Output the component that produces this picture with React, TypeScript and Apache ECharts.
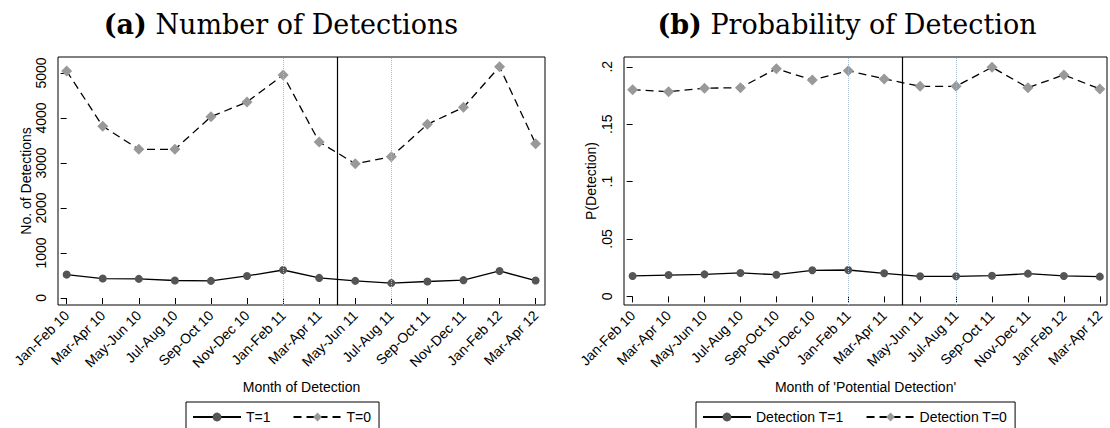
import React, { useEffect, useRef } from "react";
import * as echarts from "echarts";

const categories = [
  "Jan-Feb 10", "Mar-Apr 10", "May-Jun 10", "Jul-Aug 10", "Sep-Oct 10", "Nov-Dec 10", "Jan-Feb 11",
  "Mar-Apr 11", "May-Jun 11", "Jul-Aug 11", "Sep-Oct 11", "Nov-Dec 11", "Jan-Feb 12", "Mar-Apr 12",
];
const countT1 = [520, 432, 424, 388, 380, 490, 622, 446, 380, 330, 366, 396, 600, 388];
const countT0 = [5044, 3816, 3304, 3304, 4029, 4356, 4956, 3467, 2984, 3140, 3860, 4238, 5140, 3429];
const probT1 = [0.0178, 0.0186, 0.0192, 0.0204, 0.0189, 0.0227, 0.023, 0.0201, 0.0175, 0.0175, 0.018, 0.0198, 0.0178, 0.0172];
const probT0 = [0.18, 0.1783, 0.1813, 0.1818, 0.1983, 0.1885, 0.1966, 0.1894, 0.183, 0.183, 0.1996, 0.1818, 0.1929, 0.1807];
const countTicks = [0, 1000, 2000, 3000, 4000, 5000];
const probTicks = [0, 0.05, 0.1, 0.15, 0.2];
const dottedPeriods = ["Jan-Feb 11", "Jul-Aug 11"];
const breakBetween = ["Mar-Apr 11", "May-Jun 11"];

const SANS = "'Liberation Sans', Arial, Helvetica, sans-serif";
const SERIF = "'DejaVu Serif', 'Liberation Serif', serif";
const FS = 14;
const TITLE_FS = 27;

function buildOption() {
  const idx = categories.map((_, i) => i);
  const dotted = dottedPeriods.map((c) => categories.indexOf(c));
  const breakX = (categories.indexOf(breakBetween[0]) + categories.indexOf(breakBetween[1])) / 2;

  const markLine = {
    silent: true,
    symbol: ["none", "none"],
    label: { show: false },
    animation: false,
    data: [
      ...dotted.map((x) => ({ xAxis: x, lineStyle: { color: "#aabbcc", type: "dotted", width: 1 } })),
      { xAxis: breakX, lineStyle: { color: "#000", type: "solid", width: 1.2 } },
    ],
  };

  const xAxisBase = (gridIndex: number, max: number) => ({
    type: "value",
    gridIndex,
    min: -0.24,
    max,
    name: gridIndex === 0 ? "Month of Detection" : "Month of 'Potential Detection'",
    nameLocation: "middle",
    nameGap: 75,
    nameTextStyle: { fontFamily: SANS, fontSize: FS, color: "#000", verticalAlign: "top" },
    axisLine: { show: false },
    splitLine: { show: false },
    axisTick: { show: true, length: 6, customValues: idx, lineStyle: { color: "#000", width: 1 } },
    axisLabel: {
      customValues: idx,
      rotate: 45,
      margin: 8,
      fontFamily: SANS,
      fontSize: FS,
      color: "#000",
      formatter: (v: number) => categories[Math.round(v)],
    },
  });

  const yAxisBase = (gridIndex: number, min: number, max: number, ticks: number[], name: string, gap: number, fmt: (v: number) => string) => ({
    type: "value",
    gridIndex,
    min,
    max,
    name,
    nameLocation: "middle",
    nameGap: gap,
    nameTextStyle: { fontFamily: SANS, fontSize: FS, color: "#000" },
    axisLine: { show: false },
    splitLine: { show: false },
    axisTick: { show: true, length: 6, customValues: ticks, lineStyle: { color: "#000", width: 1 } },
    axisLabel: {
      customValues: ticks,
      rotate: 90,
      margin: 10,
      fontFamily: SANS,
      fontSize: FS,
      color: "#000",
      formatter: fmt,
    },
  });

  const solidSeries = (name: string, data: number[], xi: number) => ({
    type: "line",
    name,
    xAxisIndex: xi,
    yAxisIndex: xi,
    data: data.map((v, i) => [i, v]),
    symbol: "circle",
    symbolSize: 8,
    itemStyle: { color: "#555555" },
    lineStyle: { color: "#000", width: 1.3, type: "solid" },
    markLine,
    z: 3,
  });
  const dashedSeries = (name: string, data: number[], xi: number) => ({
    type: "line",
    name,
    xAxisIndex: xi,
    yAxisIndex: xi,
    data: data.map((v, i) => [i, v]),
    symbol: "diamond",
    symbolSize: 11,
    itemStyle: { color: "#999999" },
    lineStyle: { color: "#000", width: 1.3, type: [8, 5] },
    z: 4,
  });

  const legendBase = (left: number, data: string[]) => ({
    left,
    top: 402,
    data,
    orient: "horizontal",
    borderColor: "#000",
    borderWidth: 1,
    borderRadius: 0,
    padding: [8, 8, 12, 6],
    itemWidth: 48,
    itemHeight: 11,
    itemGap: 22,
    selectedMode: false,
    textStyle: { fontFamily: SANS, fontSize: FS, color: "#000" },
  });

  const titleText = (x: number, tag: string, rest: string) => ({
    type: "text",
    x,
    y: 24,
    style: {
      text: `{b|${tag}} ${rest}`,
      font: `${TITLE_FS}px ${SERIF}`,
      fill: "#000",
      textAlign: "center",
      textVerticalAlign: "middle",
      rich: { b: { fontWeight: "bold", fontFamily: SERIF, fontSize: TITLE_FS, fill: "#000" } },
    },
  });

  return {
    animation: false,
    backgroundColor: "#fff",
    graphic: [titleText(281, "(a)", "Number of Detections"), titleText(847, "(b)", "Probability of Detection")],
    grid: [
      { left: 58, top: 57, width: 487, height: 248, show: true, borderColor: "#000", borderWidth: 1, backgroundColor: "#fff" },
      { left: 624, top: 57, width: 483, height: 248, show: true, borderColor: "#000", borderWidth: 1, backgroundColor: "#fff" },
    ],
    xAxis: [xAxisBase(0, 13.26), xAxisBase(1, 13.2)],
    yAxis: [
      yAxisBase(0, -156, 5356, countTicks, "No. of Detections", 25, (v: number) => String(v)),
      yAxisBase(1, -0.0075, 0.2085, probTicks, "P(Detection)", 26, (v: number) => (v === 0 ? "0" : String(v).replace(/^0/, ""))),
    ],
    legend: [legendBase(186, ["T=1", "T=0"]), legendBase(696, ["Detection T=1", "Detection T=0"])],
    series: [
      solidSeries("T=1", countT1, 0),
      dashedSeries("T=0", countT0, 0),
      solidSeries("Detection T=1", probT1, 1),
      dashedSeries("Detection T=0", probT0, 1),
    ],
  };
}

export default function App() {
  const ref = useRef<HTMLDivElement | null>(null);
  useEffect(() => {
    if (!ref.current) return;
    const chart = echarts.init(ref.current, undefined, { renderer: "svg" });
    chart.setOption(buildOption() as any);
    return () => chart.dispose();
  }, []);
  return (
    <div
      ref={ref}
      style={{ position: "fixed", left: 0, top: 0, width: 1110, height: 428, background: "#fff" }}
    />
  );
}
